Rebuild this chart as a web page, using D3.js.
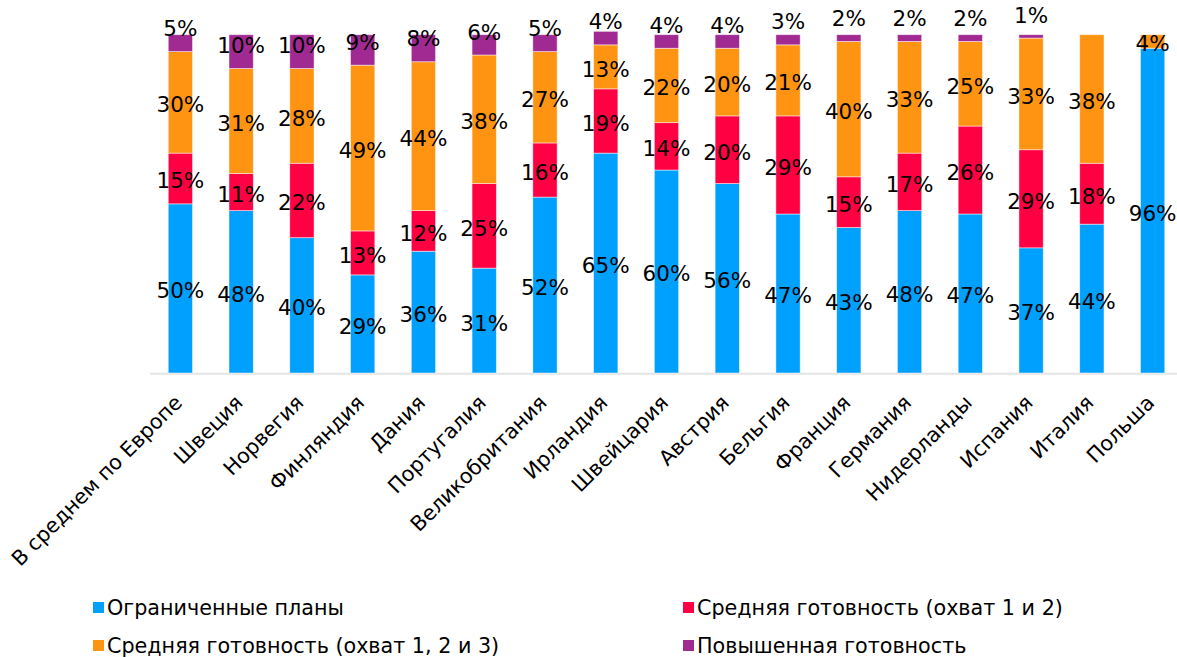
<!DOCTYPE html>
<html>
<head>
<meta charset="utf-8">
<script src="https://cdn.jsdelivr.net/npm/d3@7"></script>
<style>
  html, body { margin: 0; padding: 0; background: #fff; }
  svg { display: block; font-family: "DejaVu Sans", Verdana, sans-serif; }
</style>
</head>
<body>
<div id="chart"></div>
<script>
(function () {
"use strict";

// Categories (countries) and series values, in percent
var categories = ["В среднем по Европе", "Швеция", "Норвегия", "Финляндия", "Дания",
  "Португалия", "Великобритания", "Ирландия", "Швейцария", "Австрия", "Бельгия",
  "Франция", "Германия", "Нидерланды", "Испания", "Италия", "Польша"];

var limitedPlans = [50, 48, 40, 29, 36, 31, 52, 65, 60, 56, 47, 43, 48, 47, 37, 44, 96];
var medium12     = [15, 11, 22, 13, 12, 25, 16, 19, 14, 20, 29, 15, 17, 26, 29, 18, 0];
var medium123    = [30, 31, 28, 49, 44, 38, 27, 13, 22, 20, 21, 40, 33, 25, 33, 38, 4];
var highReady    = [5, 10, 10, 9, 8, 6, 5, 4, 4, 4, 3, 2, 2, 2, 1, 0, 0];

var seriesNames = ["Ограниченные планы", "Средняя готовность (охват 1 и 2)",
  "Средняя готовность (охват 1, 2 и 3)", "Повышенная готовность"];
var seriesColors = ["#00a0ff", "#ff0042", "#ff9412", "#a02a92"];

var fullWidth = 1177,
    fullHeight = 657;

var margins = { left: 150, right: -6, top: 34.7, bottom: 284 };

var width = fullWidth - margins.left - margins.right,
    height = fullHeight - margins.top - margins.bottom;

var svg = d3.select("#chart").append("svg")
  .attr("width", fullWidth)
  .attr("height", fullHeight);

var g = svg.append("g")
  .attr("transform", "translate(" + margins.left + "," + margins.top + ")");

var xScale = d3.scaleBand()
  .domain(categories)
  .range([0, width])
  .paddingInner(0.6)
  .paddingOuter(0.3);

var yScale = d3.scaleLinear()
  .domain([0, 100])
  .range([height, 0]);

// Build table for stack
var table = categories.map(function (c, i) {
  return { cat: c, s0: limitedPlans[i], s1: medium12[i], s2: medium123[i], s3: highReady[i] };
});
var keys = ["s0", "s1", "s2", "s3"];
var stacked = d3.stack().keys(keys)(table);

// Axis line
g.append("line")
  .attr("x1", 0)
  .attr("x2", width)
  .attr("y1", yScale(0) + 0.8)
  .attr("y2", yScale(0) + 0.8)
  .style("stroke", "#e4e4e4")
  .style("stroke-width", 2);

// Bars
var layers = g.selectAll(".layer")
  .data(stacked)
  .enter().append("g")
    .attr("class", "layer")
    .style("fill", function (d, i) { return seriesColors[i]; });

layers.selectAll("rect")
  .data(function (d) { return d; })
  .enter().append("rect")
    .attr("x", function (d) { return xScale(d.data.cat); })
    .attr("width", xScale.bandwidth())
    .attr("y", function (d) { return yScale(d[1]); })
    .attr("height", function (d) { return yScale(d[0]) - yScale(d[1]); })
    .style("stroke", "#fff")
    .style("stroke-opacity", 0.6)
    .style("stroke-width", 0.8);

// Data labels
var labelSize = 21.5;
stacked.forEach(function (layer, li) {
  g.append("g")
    .selectAll("text")
    .data(layer.filter(function (d) { return d[1] - d[0] > 0; }))
    .enter().append("text")
      .attr("x", function (d) { return xScale(d.data.cat) + xScale.bandwidth() / 2; })
      .attr("y", function (d) {
        // top series labels sit just above the segment bottom
        if (li === 3) return yScale(d[0]) - 23 + 7.5;
        return (yScale(d[0]) + yScale(d[1])) / 2 + 10;
      })
      .style("text-anchor", "middle")
      .style("font-size", labelSize + "px")
      .style("fill", "#000")
      .text(function (d) { return (d[1] - d[0]) + "%"; });
});

// Category labels
g.append("g")
  .selectAll("text")
  .data(categories)
  .enter().append("text")
    .attr("transform", function (d) {
      return "translate(" + (xScale(d) + xScale.bandwidth() / 2 + 3) + "," + (height + 31) + ") rotate(-45)";
    })
    .style("text-anchor", "end")
    .style("font-size", "20.7px")
    .style("fill", "#000")
    .text(function (d) { return d; });

// Legend
var legendPos = [[93, 608], [683, 608], [93, 646], [683, 646]];
var legend = svg.append("g")
  .selectAll("g")
  .data(seriesNames)
  .enter().append("g")
    .attr("transform", function (d, i) { return "translate(" + legendPos[i][0] + "," + legendPos[i][1] + ")"; });

legend.append("rect")
  .attr("x", 0)
  .attr("y", -6)
  .attr("width", 11)
  .attr("height", 11)
  .style("fill", function (d, i) { return seriesColors[i]; });

legend.append("text")
  .attr("x", 14)
  .attr("y", 7)
  .style("font-size", "20.7px")
  .style("fill", "#000")
  .text(function (d) { return d; });

})();
</script>
</body>
</html>
